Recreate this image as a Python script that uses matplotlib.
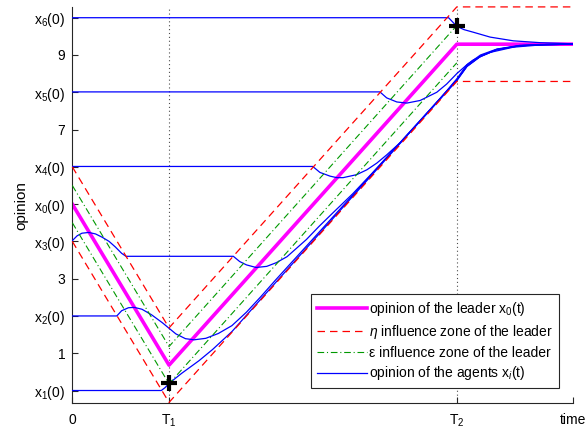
import numpy as np
import matplotlib
matplotlib.use("Agg")
import matplotlib.pyplot as plt
from matplotlib.lines import Line2D

plt.rcParams['font.family'] = ['Liberation Sans', 'DejaVu Sans']
plt.rcParams['mathtext.fontset'] = 'custom'
plt.rcParams['mathtext.rm'] = 'Liberation Sans'
plt.rcParams['mathtext.it'] = 'Liberation Sans:italic'

# time marks and zone widths
T1 = 1.0
T2 = 3.975
t_end = 5.18
eta = 1.0
eps = 0.5

# leader trajectory (piecewise linear)
leader_t = [0.0, T1, T2, t_end]
leader_x = [5.0, 0.68, 9.29, 9.29]

# agent trajectories
x1_t = [0, 0.92, 0.96, 1.0, 1.13, 1.31, 1.45, 1.65, 2.0, 2.5, 3.0, 3.5, 3.975,
        4.08, 4.22, 4.39, 4.63, 4.9, 5.18]
x1_v = [0, 0, 0.08, 0.19, 0.46, 0.80, 1.10, 1.58, 2.60, 4.05, 5.50, 6.95, 8.31,
        8.69, 8.96, 9.14, 9.25, 9.28, 9.29]

x2_t = [0, 0.46, 0.51, 0.58, 0.64, 0.72, 0.82, 0.93, 1.0, 1.07, 1.17, 1.26, 1.38,
        1.51, 1.65, 1.8, 1.95, 2.1, 2.3, 2.5, 3.0, 3.5, 3.975,
        4.08, 4.22, 4.39, 4.63, 4.9, 5.18]
x2_v = [2, 2, 2.14, 2.22, 2.23, 2.18, 2.03, 1.82, 1.67, 1.52, 1.39, 1.36, 1.40,
        1.53, 1.74, 2.10, 2.52, 2.96, 3.53, 4.10, 5.53, 6.97, 8.33,
        8.70, 8.97, 9.15, 9.25, 9.28, 9.29]

x3_t = [0, 0.05, 0.10, 0.17, 0.24, 0.31, 0.38, 0.445, 0.51, 0.555, 1.665, 1.73,
        1.80, 1.90, 2.01, 2.11, 2.22, 2.32, 2.42, 2.55, 2.7, 2.9, 3.1, 3.5, 3.975,
        4.08, 4.22, 4.39, 4.63, 4.9, 5.18]
x3_v = [4.02, 4.15, 4.22, 4.24, 4.20, 4.11, 4.0, 3.85, 3.68, 3.60, 3.60, 3.46,
        3.37, 3.30, 3.33, 3.43, 3.59, 3.82, 4.05, 4.40, 4.78, 5.28, 5.83, 6.96, 8.33,
        8.70, 8.97, 9.15, 9.25, 9.28, 9.29]

x4_t = [0, 2.486, 2.56, 2.665, 2.734, 2.80, 2.94, 3.045, 3.148, 3.25, 3.39, 3.6,
        3.8, 3.975, 4.08, 4.22, 4.39, 4.63, 4.9, 5.18]
x4_v = [6.01, 6.01, 5.85, 5.75, 5.71, 5.71, 5.79, 5.92, 6.10, 6.32, 6.65, 7.24,
        7.82, 8.36, 8.74, 9.0, 9.16, 9.26, 9.28, 9.29]

x5_t = [0, 3.18, 3.25, 3.355, 3.458, 3.596, 3.768, 3.87, 3.975, 4.08, 4.147,
        4.32, 4.56, 4.84, 5.18]
x5_v = [8.01, 8.01, 7.85, 7.74, 7.71, 7.78, 8.0, 8.22, 8.50, 8.74, 8.87,
        9.07, 9.21, 9.27, 9.29]

x6_t = [0, 3.89, 3.975, 4.05, 4.147, 4.32, 4.56, 4.84, 5.18]
x6_v = [10.0, 10.0, 9.77, 9.68, 9.61, 9.48, 9.38, 9.33, 9.30]

agents = [(x1_t, x1_v), (x2_t, x2_v), (x3_t, x3_v),
          (x4_t, x4_v), (x5_t, x5_v), (x6_t, x6_v)]

# black crosses
mark_t = [T1, T2]
mark_v = [0.19, 9.77]

yticks = [0, 1, 2, 3, 4, 5, 6, 7, 8, 9, 10]
ylabels = ['x$_1$(0)', '1', 'x$_2$(0)', '3', 'x$_3$(0)', 'x$_0$(0)',
           'x$_4$(0)', '7', 'x$_5$(0)', '9', 'x$_6$(0)']
xticks = [0, T1, T2, t_end]
xlabels = ['0', 'T$_1$', 'T$_2$', 'time']

fig = plt.figure(figsize=(5.86, 4.36), dpi=100)
ax = fig.add_axes([0.1234, 0.0757, 0.855, 0.9076])

lt = np.array(leader_t)
lx = np.array(leader_x)

ax.axvline(T1, color='0.3', lw=0.8, ls=(0, (1, 2.5)), zorder=1)
ax.axvline(T2, color='0.3', lw=0.8, ls=(0, (1, 2.5)), zorder=1)

ax.plot(lt, lx, color='magenta', lw=2.6, zorder=2)
for t, v in agents:
    ax.plot(t, v, color='blue', lw=0.9, zorder=3)
ax.plot(lt[:3], lx[:3] + eps, color=(0, 0.6, 0), lw=0.8, ls=(0, (6, 2.5, 1, 2.5)), zorder=4)
ax.plot(lt[:3], lx[:3] - eps, color=(0, 0.6, 0), lw=0.8, ls=(0, (6, 2.5, 1, 2.5)), zorder=4)
ax.plot(lt, lx + eta, color='red', lw=0.9, ls=(0, (6, 4)), zorder=5, clip_on=False)
ax.plot(lt, lx - eta, color='red', lw=0.9, ls=(0, (6, 4)), zorder=5, clip_on=False)

ax.plot(mark_t, mark_v, ls='none', marker='+', color='black', ms=11, mew=3, zorder=6)

ax.set_xlim(0, t_end)
ax.set_ylim(-0.335, 10.28)
ax.set_yticks(yticks)
ax.set_yticklabels(ylabels)
ax.set_xticks(xticks)
ax.set_xticklabels(xlabels)
ax.tick_params(direction='in', length=4, width=0.8, labelsize=10, color='0.15')
ax.tick_params(axis='y', pad=5)
ax.tick_params(axis='x', pad=7)
ax.spines['top'].set_visible(False)
ax.spines['right'].set_visible(False)
for s in ['left', 'bottom']:
    ax.spines[s].set_linewidth(0.8)
    ax.spines[s].set_color('0.15')
ax.set_ylabel('opinion', fontsize=11, labelpad=4)

handles = [
    Line2D([], [], color='magenta', lw=2.6),
    Line2D([], [], color='red', lw=0.9, ls=(0, (6, 4))),
    Line2D([], [], color=(0, 0.6, 0), lw=0.8, ls=(0, (6, 2.5, 1, 2.5))),
    Line2D([], [], color='blue', lw=0.9),
]
labels = ['opinion of the leader x$_0$(t)',
          r'$\eta$ influence zone of the leader',
          'ε influence zone of the leader',
          'opinion of the agents x$_i$(t)']
leg = ax.legend(handles, labels, loc='lower right', bbox_to_anchor=(0.971, 0.038),
                borderaxespad=0, fontsize=10, handlelength=3.6, handletextpad=0.2,
                labelspacing=0.35, borderpad=0.4, fancybox=False, framealpha=1,
                edgecolor='0.15')
leg.get_frame().set_linewidth(0.8)

plt.savefig('out.png', dpi=100)
